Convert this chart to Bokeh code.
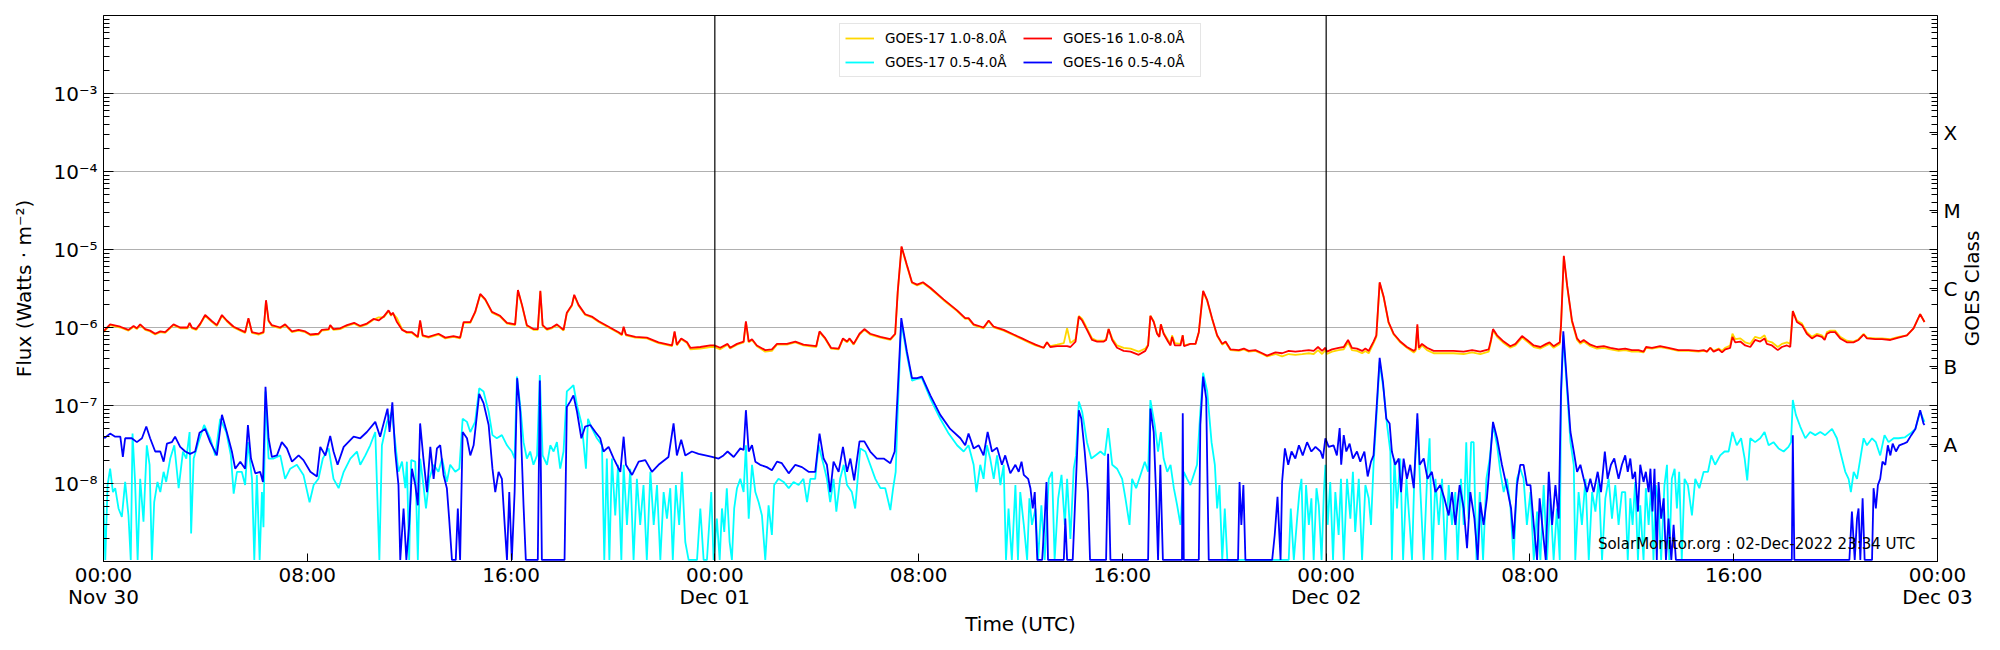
import math
import numpy as np
from bokeh.plotting import figure
from bokeh.models import (Range1d, LogAxis, FixedTicker, CustomJSTickFormatter,
                          Span, Legend, LegendItem, Label)
from bokeh.embed import file_html
from bokeh.resources import INLINE

FONT = "DejaVu Sans"

# ---------------- axis / label data ----------------
X_TICKS = [0, 8, 16, 24, 32, 40, 48, 56, 64, 72]          # hours since 30-Nov-2022 00:00 UTC
X_TICK_LABELS = ["00:00\nNov 30", "08:00", "16:00", "00:00\nDec 01", "08:00", "16:00",
                 "00:00\nDec 02", "08:00", "16:00", "00:00\nDec 03"]
DAY_LINES = [24, 48]
Y_DECADES = [1e-8, 1e-7, 1e-6, 1e-5, 1e-4, 1e-3]
CLASS_LETTERS = ["A", "B", "C", "M", "X"]
CLASS_EXPONENTS = [-7.5, -6.5, -5.5, -4.5, -3.5]
RIGHT_TITLE = "GOES Class"
RIGHT_TITLE_START_EXP = -6.24      # where the rotated title text starts (so it is centred on the frame)
WATERMARK = "SolarMonitor.org : 02-Dec-2022 23:34 UTC"

# ---------------- series: (hours, log10 flux W/m^2) ----------------
G16_LONG = [
 (0.0,-6.05),(0.26,-5.96),(0.66,-5.99),(0.98,-6.03),(1.18,-5.98),(1.31,-6.01),(1.44,-5.96),(1.64,-6.02),
 (1.83,-6.04),(2.03,-6.08),(2.23,-6.05),(2.42,-6.06),(2.75,-5.96),(3.01,-6.00),(3.3,-6.00),(3.38,-5.94),
 (3.47,-6.00),(3.64,-6.02),(3.8,-5.95),(3.99,-5.84),(4.26,-5.92),(4.45,-5.97),(4.65,-5.84),(4.84,-5.91),
 (5.11,-5.99),(5.37,-6.03),(5.56,-6.06),(5.69,-5.88),(5.83,-6.06),(6.09,-6.08),(6.28,-6.06),(6.38,-5.65),
 (6.48,-5.91),(6.61,-5.97),(6.94,-6.00),(7.13,-5.96),(7.4,-6.05),(7.66,-6.03),(7.92,-6.05),(8.12,-6.09),
 (8.44,-6.08),(8.57,-6.03),(8.84,-6.02),(8.9,-5.97),(9.03,-6.02),(9.29,-6.01),(9.56,-5.97),(9.84,-5.94),
 (10.08,-5.98),(10.34,-5.95),(10.6,-5.89),(10.8,-5.91),(11.0,-5.86),(11.19,-5.78),(11.29,-5.84),(11.36,-5.81),
 (11.52,-5.93),(11.72,-6.03),(11.91,-6.06),
 (12.11,-6.06),(12.34,-6.12),(12.43,-5.91),(12.53,-6.10),(12.76,-6.12),(13.15,-6.08),(13.42,-6.13),(13.74,-6.11),
 (14.0,-6.13),(14.14,-5.93),(14.4,-5.93),(14.59,-5.80),(14.79,-5.57),(14.99,-5.64),(15.25,-5.80),(15.57,-5.85),
 (15.84,-5.94),(16.16,-5.96),(16.27,-5.52),(16.43,-5.71),(16.62,-5.97),(16.88,-6.02),(17.05,-6.02),(17.15,-5.53),
 (17.24,-5.97),(17.41,-6.02),(17.6,-6.00),(17.8,-5.96),(18.06,-6.03),(18.19,-5.81),(18.39,-5.71),(18.48,-5.58),
 (18.65,-5.71),(18.91,-5.83),(19.17,-5.86),(19.44,-5.92),(19.83,-5.99),(20.22,-6.06),(20.35,-6.09),(20.42,-5.99),
 (20.51,-6.09),(20.88,-6.12),(21.33,-6.13),(21.79,-6.19),(22.32,-6.23),(22.42,-6.05),(22.51,-6.22),(22.68,-6.14),
 (22.91,-6.19),(23.04,-6.26),(23.43,-6.25),(23.82,-6.23),
 (23.98,-6.23),(24.21,-6.26),(24.5,-6.21),(24.6,-6.26),(24.87,-6.21),(25.13,-6.18),(25.22,-5.92),(25.33,-6.18),
 (25.46,-6.15),(25.65,-6.23),(25.98,-6.29),(26.24,-6.28),(26.44,-6.21),(26.83,-6.21),(27.16,-6.18),(27.48,-6.22),
 (27.98,-6.24),(28.11,-6.05),(28.34,-6.14),(28.56,-6.26),(28.86,-6.27),(29.03,-6.14),(29.19,-6.18),(29.29,-6.14),
 (29.45,-6.21),(29.68,-6.08),(29.87,-6.02),(30.1,-6.08),(30.5,-6.12),(30.89,-6.15),(31.08,-6.08),(31.18,-5.54),
 (31.33,-4.96),(31.54,-5.20),(31.74,-5.42),(31.94,-5.45),(32.17,-5.42),(32.46,-5.49),(32.98,-5.64),(33.51,-5.78),
 (33.83,-5.88),(33.96,-5.88),(34.16,-5.96),(34.55,-6.00),(34.75,-5.91),(34.95,-5.99),(35.34,-6.03),(35.73,-6.09),
 (36.06,-6.14),(36.32,-6.18),(36.59,-6.22),(36.91,-6.26),(37.04,-6.19),(37.17,-6.25),(37.44,-6.24),(37.7,-6.24),
 (37.83,-6.24),(37.96,-6.25),(38.16,-6.18),(38.29,-5.86),(38.42,-5.91),(38.61,-6.03),(38.81,-6.16),(39.01,-6.18),
 (39.27,-6.18),(39.36,-6.16),(39.46,-6.02),(39.6,-6.16),(39.79,-6.26),(40.05,-6.30),(40.32,-6.31),(40.64,-6.35),
 (40.9,-6.30),(41.01,-6.23),(41.1,-5.85),(41.23,-5.93),(41.36,-6.08),(41.45,-6.12),(41.51,-5.96),(41.62,-6.08),
 (41.79,-6.18),(41.89,-6.23),(41.95,-6.12),(42.06,-6.23),(42.28,-6.23),(42.37,-6.10),(42.42,-6.24),(42.67,-6.21),
 (42.87,-6.21),(43.0,-6.06),(43.17,-5.53),(43.33,-5.65),(43.52,-5.88),(43.72,-6.10),(43.92,-6.21),(44.05,-6.18),
 (44.24,-6.28),(44.57,-6.29),(44.77,-6.27),(44.96,-6.30),(45.22,-6.29),(45.49,-6.33),(45.68,-6.36),(46.01,-6.32),
 (46.27,-6.33),(46.53,-6.30),(46.79,-6.31),(47.06,-6.30),(47.32,-6.29),(47.51,-6.30),(47.68,-6.25),(47.84,-6.30),
 (47.97,-6.26),(48.03,-6.31),(48.23,-6.28),(48.49,-6.26),(48.69,-6.25),(48.86,-6.16),(49.01,-6.26),(49.21,-6.27),
 (49.41,-6.30),(49.54,-6.27),(49.67,-6.30),(49.86,-6.18),(49.97,-6.10),(50.1,-5.42),(50.26,-5.61),(50.45,-5.93),
 (50.65,-6.08),(50.91,-6.18),(51.17,-6.25),(51.44,-6.30),(51.51,-6.28),(51.58,-5.96),(51.64,-6.26),(51.76,-6.21),
 (51.96,-6.26),(52.22,-6.30),(52.61,-6.30),(53.0,-6.30),(53.4,-6.31),(53.73,-6.29),(54.05,-6.31),(54.38,-6.28),
 (54.47,-6.16),(54.55,-6.02),(54.71,-6.10),(54.97,-6.18),(55.23,-6.24),(55.43,-6.21),(55.69,-6.11),(55.89,-6.16),
 (56.15,-6.23),(56.41,-6.25),(56.64,-6.21),(56.77,-6.19),(56.93,-6.24),(57.17,-6.19),(57.22,-5.97),(57.33,-5.08),
 (57.46,-5.46),(57.65,-5.91),(57.85,-6.14),(57.98,-6.19),(58.11,-6.16),(58.37,-6.22),(58.63,-6.25),(58.9,-6.24),
 (59.16,-6.26),(59.48,-6.28),
 (59.74,-6.27),(60.0,-6.29),(60.26,-6.29),(60.46,-6.31),(60.56,-6.25),(60.79,-6.26),(61.11,-6.24),(61.44,-6.26),
 (61.83,-6.29),(62.23,-6.29),(62.62,-6.30),(62.82,-6.29),(62.95,-6.31),(63.08,-6.26),(63.21,-6.31),(63.41,-6.28),
 (63.54,-6.32),(63.67,-6.28),(63.86,-6.26),(63.95,-6.12),(64.06,-6.19),(64.26,-6.18),(64.45,-6.23),(64.65,-6.25),
 (64.84,-6.16),(65.04,-6.18),(65.21,-6.14),(65.3,-6.21),(65.5,-6.23),(65.73,-6.29),(65.89,-6.25),(66.09,-6.23),
 (66.22,-6.25),(66.32,-5.79),(66.48,-5.93),(66.68,-5.97),(66.87,-6.08),(67.07,-6.14),(67.27,-6.10),(67.46,-6.12),
 (67.57,-6.16),(67.66,-6.08),(67.79,-6.06),(67.98,-6.06),(68.18,-6.14),(68.44,-6.19),(68.7,-6.19),(68.9,-6.16),
 (69.1,-6.09),(69.23,-6.14),(69.56,-6.15),(69.82,-6.15),(70.15,-6.16),(70.47,-6.13),(70.8,-6.10),(71.06,-6.01),
 (71.32,-5.83),(71.49,-5.93),
]

G17_LONG = [
 (0.0,-6.06),(0.26,-5.97),(0.66,-6.00),(0.98,-6.04),(1.18,-5.99),(1.31,-6.02),(1.44,-5.97),(1.64,-6.03),
 (1.83,-6.05),(2.03,-6.09),(2.23,-6.06),(2.42,-6.07),(2.75,-5.97),(3.01,-6.01),(3.3,-6.01),(3.38,-5.95),
 (3.47,-6.01),(3.64,-6.03),(3.8,-5.96),(3.99,-5.85),(4.26,-5.93),(4.45,-5.98),(4.65,-5.85),(4.84,-5.92),
 (5.11,-6.00),(5.37,-6.04),(5.56,-6.07),(5.69,-5.89),(5.83,-6.07),(6.09,-6.09),(6.28,-6.07),(6.38,-5.66),
 (6.48,-5.92),(6.61,-5.98),(6.94,-6.01),(7.13,-5.97),(7.4,-6.06),(7.66,-6.04),(7.92,-6.06),(8.12,-6.10),
 (8.44,-6.09),(8.57,-6.04),(8.84,-6.03),(8.9,-5.98),(9.03,-6.03),(9.29,-6.02),(9.56,-5.98),(9.84,-5.95),
 (10.08,-5.99),(10.34,-5.96),(10.6,-5.90),(10.8,-5.87),(11.0,-5.87),(11.19,-5.79),(11.29,-5.85),(11.36,-5.82),
 (11.52,-5.88),(11.72,-6.02),(11.91,-6.07),
 (12.11,-6.07),(12.34,-6.13),(12.43,-5.92),(12.53,-6.11),(12.76,-6.13),(13.15,-6.09),(13.42,-6.14),(13.74,-6.12),
 (14.0,-6.14),(14.14,-5.94),(14.4,-5.94),(14.59,-5.81),(14.79,-5.58),(14.99,-5.65),(15.25,-5.81),(15.57,-5.86),
 (15.84,-5.95),(16.16,-5.97),(16.27,-5.53),(16.43,-5.72),(16.62,-5.98),(16.88,-6.03),(17.05,-6.03),(17.15,-5.54),
 (17.24,-5.98),(17.41,-6.03),(17.6,-6.01),(17.8,-5.97),(18.06,-6.04),(18.19,-5.82),(18.39,-5.72),(18.48,-5.59),
 (18.65,-5.72),(18.91,-5.84),(19.17,-5.87),(19.44,-5.93),(19.83,-6.00),(20.22,-6.07),(20.35,-6.10),(20.42,-6.00),
 (20.51,-6.10),(20.88,-6.13),(21.33,-6.14),(21.79,-6.20),(22.32,-6.24),(22.42,-6.06),(22.51,-6.23),(22.68,-6.15),
 (22.91,-6.20),(23.04,-6.28),(23.43,-6.27),(23.82,-6.25),
 (23.98,-6.25),(24.21,-6.28),(24.5,-6.22),(24.6,-6.27),(24.87,-6.22),(25.13,-6.19),(25.22,-5.93),(25.33,-6.19),
 (25.46,-6.16),(25.65,-6.24),(25.98,-6.31),(26.24,-6.30),(26.44,-6.22),(26.83,-6.22),(27.16,-6.19),(27.48,-6.23),
 (27.98,-6.25),(28.11,-6.06),(28.34,-6.15),(28.56,-6.27),(28.86,-6.28),(29.03,-6.15),(29.19,-6.19),(29.29,-6.15),
 (29.45,-6.22),(29.68,-6.09),(29.87,-6.03),(30.1,-6.09),(30.5,-6.13),(30.89,-6.16),(31.08,-6.09),(31.18,-5.55),
 (31.33,-4.97),(31.54,-5.21),(31.74,-5.43),(31.94,-5.46),(32.17,-5.43),(32.46,-5.50),(32.98,-5.65),(33.51,-5.79),
 (33.83,-5.89),(33.96,-5.89),(34.16,-5.97),(34.55,-6.01),(34.75,-5.92),(34.95,-6.00),(35.34,-6.04),(35.73,-6.10),
 (36.06,-6.15),(36.32,-6.19),(36.59,-6.23),(36.91,-6.26),(37.04,-6.19),(37.17,-6.24),(37.44,-6.22),(37.7,-6.20),
 (37.83,-6.01),(37.96,-6.20),(38.16,-6.15),(38.29,-5.85),(38.42,-5.89),(38.61,-6.01),(38.81,-6.14),(39.01,-6.17),
 (39.27,-6.17),(39.36,-6.15),(39.46,-6.02),(39.6,-6.14),(39.79,-6.23),(40.05,-6.26),(40.32,-6.27),(40.64,-6.31),
 (40.9,-6.27),(41.01,-6.22),(41.1,-5.85),(41.23,-5.92),(41.36,-6.07),(41.45,-6.11),(41.51,-5.96),(41.62,-6.07),
 (41.79,-6.16),(41.89,-6.20),(41.95,-6.10),(42.06,-6.20),(42.28,-6.21),(42.37,-6.10),(42.42,-6.23),(42.67,-6.21),
 (42.87,-6.21),(43.0,-6.06),(43.17,-5.54),(43.33,-5.66),(43.52,-5.89),(43.72,-6.11),(43.92,-6.22),(44.05,-6.19),
 (44.24,-6.29),(44.57,-6.30),(44.77,-6.28),(44.96,-6.31),(45.22,-6.30),(45.49,-6.34),(45.68,-6.37),(46.01,-6.34),
 (46.27,-6.37),(46.53,-6.34),(46.79,-6.35),(47.06,-6.34),(47.32,-6.33),(47.51,-6.34),(47.68,-6.29),(47.84,-6.34),
 (47.97,-6.29),(48.03,-6.34),(48.23,-6.31),(48.49,-6.29),(48.69,-6.28),(48.86,-6.19),(49.01,-6.29),(49.21,-6.30),
 (49.41,-6.33),(49.54,-6.30),(49.67,-6.33),(49.86,-6.20),(49.97,-6.12),(50.1,-5.43),(50.26,-5.62),(50.45,-5.94),
 (50.65,-6.09),(50.91,-6.19),(51.17,-6.26),(51.44,-6.32),(51.51,-6.30),(51.58,-5.98),(51.64,-6.28),(51.76,-6.23),
 (51.96,-6.29),(52.22,-6.33),(52.61,-6.33),(53.0,-6.33),(53.4,-6.34),(53.73,-6.32),(54.05,-6.34),(54.38,-6.31),
 (54.47,-6.18),(54.55,-6.04),(54.71,-6.12),(54.97,-6.20),(55.23,-6.26),(55.43,-6.23),(55.69,-6.13),(55.89,-6.18),
 (56.15,-6.25),(56.41,-6.27),(56.64,-6.23),(56.77,-6.21),(56.93,-6.26),(57.17,-6.21),(57.22,-5.99),(57.33,-5.09),
 (57.46,-5.47),(57.65,-5.93),(57.85,-6.16),(57.98,-6.21),(58.11,-6.18),(58.37,-6.24),(58.63,-6.27),(58.9,-6.26),
 (59.16,-6.28),(59.48,-6.30),
 (59.74,-6.29),(60.0,-6.31),(60.26,-6.31),(60.46,-6.32),(60.56,-6.26),(60.79,-6.27),(61.11,-6.25),(61.44,-6.27),
 (61.83,-6.30),(62.23,-6.30),(62.62,-6.31),(62.82,-6.30),(62.95,-6.31),(63.08,-6.26),(63.21,-6.30),(63.41,-6.27),
 (63.54,-6.30),(63.67,-6.26),(63.86,-6.23),(63.95,-6.08),(64.06,-6.15),(64.26,-6.14),(64.45,-6.19),(64.65,-6.21),
 (64.84,-6.12),(65.04,-6.14),(65.21,-6.10),(65.3,-6.17),(65.5,-6.19),(65.73,-6.25),(65.89,-6.21),(66.09,-6.19),
 (66.22,-6.21),(66.32,-5.79),(66.48,-5.91),(66.68,-5.95),(66.87,-6.06),(67.07,-6.12),(67.27,-6.08),(67.46,-6.10),
 (67.57,-6.14),(67.66,-6.06),(67.79,-6.04),(67.98,-6.04),(68.18,-6.12),(68.44,-6.17),(68.7,-6.18),(68.9,-6.15),
 (69.1,-6.08),(69.23,-6.13),(69.56,-6.14),(69.82,-6.14),(70.15,-6.15),(70.47,-6.12),(70.8,-6.10),(71.06,-6.01),
 (71.32,-5.83),(71.49,-5.93),
]

G16_SHORT = [
 (0.03,-7.42),(0.26,-7.36),(0.46,-7.40),(0.66,-7.40),(0.76,-7.66),(0.85,-7.42),(1.11,-7.42),(1.31,-7.47),
 (1.51,-7.42),(1.68,-7.27),(1.83,-7.42),(2.03,-7.59),(2.23,-7.59),(2.36,-7.72),(2.49,-7.49),(2.68,-7.47),
 (2.81,-7.40),(3.01,-7.53),(3.21,-7.59),(3.4,-7.62),(3.6,-7.59),(3.77,-7.35),(3.99,-7.30),(4.19,-7.47),
 (4.45,-7.64),(4.65,-7.12),(4.84,-7.34),(5.04,-7.59),(5.17,-7.81),(5.37,-7.72),(5.56,-7.81),(5.67,-7.25),
 (5.79,-7.68),(5.96,-7.87),(6.15,-7.85),(6.26,-7.98),(6.36,-6.76),(6.48,-7.42),(6.61,-7.66),(6.81,-7.64),
 (7.0,-7.47),(7.2,-7.55),(7.4,-7.72),(7.66,-7.64),(7.85,-7.70),(8.12,-7.85),(8.38,-7.91),(8.51,-7.53),
 (8.71,-7.64),(8.9,-7.39),(9.03,-7.59),(9.19,-7.76),(9.43,-7.53),(9.82,-7.40),(10.08,-7.42),(10.34,-7.34),
 (10.67,-7.21),(10.86,-7.40),(11.15,-7.04),(11.23,-7.34),(11.34,-6.96),(11.45,-7.59),(11.58,-8.02),(11.65,-8.98),
 (11.78,-8.32),(11.89,-8.98),
 (12.0,-8.53),(12.11,-7.81),(12.24,-8.02),(12.34,-8.28),(12.43,-7.23),(12.56,-7.68),(12.7,-8.11),(12.83,-7.53),
 (12.96,-7.94),(13.09,-7.55),(13.22,-7.51),(13.35,-7.89),(13.48,-8.06),(13.57,-8.45),(13.68,-8.98),(13.83,-8.98),
 (13.91,-8.32),(14.0,-8.98),(14.1,-7.34),(14.27,-7.42),(14.4,-7.64),(14.53,-7.51),(14.75,-6.85),(14.92,-6.97),
 (15.12,-7.25),(15.27,-7.81),(15.38,-8.11),(15.51,-7.85),(15.64,-7.94),(15.75,-8.53),(15.84,-8.98),(15.93,-8.11),
 (16.03,-8.98),(16.14,-8.11),(16.24,-6.65),(16.36,-7.08),(16.49,-8.28),(16.58,-8.98),(17.05,-8.98),(17.13,-6.68),
 (17.21,-8.98),(18.1,-8.98),(18.19,-7.02),(18.32,-6.95),(18.45,-6.87),(18.59,-7.08),(18.76,-7.42),(18.91,-7.27),
 (19.11,-7.25),(19.31,-7.34),(19.5,-7.42),(19.63,-7.59),(19.83,-7.53),(20.03,-7.68),(20.29,-7.85),(20.42,-7.40),
 (20.51,-7.76),(20.75,-7.89),(21.01,-7.72),(21.27,-7.70),(21.53,-7.85),(21.79,-7.76),(22.18,-7.66),(22.38,-7.23),
 (22.51,-7.64),(22.68,-7.44),(22.84,-7.64),(23.1,-7.59),(23.36,-7.62),(23.63,-7.64),
 (23.89,-7.66),(24.15,-7.68),(24.34,-7.64),(24.5,-7.59),(24.74,-7.66),(25.0,-7.55),(25.13,-7.57),(25.22,-7.06),
 (25.33,-7.59),(25.46,-7.51),(25.59,-7.72),(25.78,-7.76),(26.04,-7.79),(26.24,-7.83),(26.44,-7.72),(26.63,-7.74),
 (26.9,-7.87),(27.16,-7.76),(27.42,-7.79),(27.68,-7.85),(27.94,-7.85),(28.11,-7.36),(28.27,-7.68),(28.4,-7.76),
 (28.53,-8.11),(28.66,-7.72),(28.86,-7.85),(29.03,-7.53),(29.19,-7.85),(29.32,-7.68),(29.47,-7.96),(29.68,-7.46),
 (29.87,-7.46),(30.1,-7.59),(30.36,-7.68),(30.63,-7.68),(30.89,-7.74),(31.06,-7.59),(31.18,-6.82),(31.32,-5.88),
 (31.54,-6.31),(31.74,-6.65),(31.94,-6.65),(32.13,-6.63),(32.46,-6.87),(32.85,-7.12),(33.24,-7.30),(33.64,-7.42),
 (33.83,-7.51),(33.96,-7.36),(34.16,-7.55),(34.36,-7.51),(34.55,-7.64),(34.71,-7.34),(34.88,-7.59),(35.08,-7.54),
 (35.27,-7.76),(35.4,-7.64),(35.6,-7.87),
 (35.8,-7.76),(35.93,-7.85),(36.04,-7.72),(36.13,-7.89),(36.3,-7.94),(36.39,-8.06),(36.48,-8.32),(36.56,-8.11),
 (36.66,-8.98),(36.85,-8.98),(36.95,-8.45),(37.02,-7.98),(37.08,-8.98),(37.7,-8.98),(37.76,-8.45),(37.83,-8.98),
 (38.05,-8.98),(38.16,-8.11),(38.29,-7.06),(38.39,-7.17),(38.52,-7.59),(38.65,-8.11),(38.73,-8.98),(39.36,-8.98),
 (39.44,-7.62),(39.53,-8.98),(41.01,-8.98),(41.1,-7.04),(41.23,-7.34),(41.32,-8.11),(41.4,-8.98),(41.49,-7.76),
 (41.59,-8.98),(42.34,-8.98),(42.37,-7.10),(42.41,-8.98),(43.0,-8.98),(43.06,-7.25),(43.17,-6.63),(43.29,-6.91),
 (43.39,-8.98),(44.54,-8.98),(44.6,-7.98),(44.67,-8.53),(44.75,-8.02),(44.83,-8.98),(45.88,-8.98),(45.98,-8.66),
 (46.09,-8.17),(46.21,-8.98),(46.27,-7.98),(46.38,-7.55),(46.51,-7.76),(46.64,-7.59),(46.79,-7.68),(46.93,-7.51),
 (47.08,-7.64),(47.25,-7.47),(47.42,-7.59),(47.58,-7.53),(47.78,-7.59),
 (47.87,-7.68),(47.97,-7.42),(48.1,-7.53),(48.29,-7.51),(48.42,-7.64),(48.53,-7.29),(48.59,-7.76),(48.69,-7.38),
 (48.79,-7.59),(48.92,-7.49),(49.05,-7.68),(49.21,-7.59),(49.34,-7.72),(49.5,-7.59),(49.63,-7.91),(49.76,-7.72),
 (49.86,-7.64),(49.97,-7.08),(50.1,-6.39),(50.23,-6.70),(50.36,-7.17),(50.49,-7.23),(50.58,-7.59),(50.71,-7.76),
 (50.85,-7.68),(50.94,-8.11),(51.04,-7.68),(51.17,-7.94),(51.3,-7.76),(51.44,-8.06),(51.58,-7.10),(51.67,-7.76),
 (51.83,-7.68),(51.98,-7.94),(52.15,-7.85),(52.29,-8.11),(52.48,-8.02),(52.64,-8.19),(52.81,-8.41),(52.94,-8.11),
 (53.07,-8.53),(53.24,-8.02),(53.4,-8.32),(53.53,-8.83),(53.66,-8.11),(53.82,-8.45),(53.95,-8.98),(54.05,-8.24),
 (54.18,-8.53),(54.31,-8.19),(54.44,-7.68),(54.55,-7.21),(54.71,-7.42),(54.9,-7.76),(55.1,-8.06),(55.26,-8.32),
 (55.36,-8.71),(55.49,-8.02),(55.62,-7.76),(55.75,-7.76),(55.88,-8.02),(56.02,-8.02),(56.15,-8.53),(56.28,-8.98),
 (56.38,-8.19),(56.51,-8.62),(56.62,-8.98),(56.74,-7.85),(56.87,-8.53),(57.0,-8.02),(57.13,-8.45),(57.22,-6.82),
 (57.31,-6.05),(57.46,-6.74),(57.59,-7.34),(57.72,-7.59),(57.85,-7.85),(57.98,-7.76),(58.11,-7.94),(58.24,-8.11),
 (58.37,-7.94),(58.5,-8.11),(58.66,-7.85),(58.79,-8.11),(58.94,-7.59),(59.05,-7.94),(59.18,-7.76),(59.31,-7.68),
 (59.48,-7.94),(59.61,-7.76),
 (59.74,-7.64),(59.84,-7.85),(59.94,-7.68),(60.03,-7.94),(60.13,-7.85),(60.24,-8.36),(60.33,-7.76),(60.46,-7.98),
 (60.55,-7.85),(60.66,-8.11),(60.73,-7.81),(60.81,-8.36),(60.89,-7.81),(60.98,-8.98),(61.05,-7.98),(61.15,-8.45),
 (61.25,-8.19),(61.34,-8.98),(61.44,-8.45),(61.55,-8.98),(61.64,-8.53),(61.73,-8.98),(66.28,-8.98),(66.32,-7.38),
 (66.38,-8.98),(68.54,-8.98),(68.64,-8.36),(68.75,-8.98),(68.84,-8.45),(68.9,-8.32),(68.97,-8.98),(69.06,-8.19),
 (69.14,-8.98),(69.43,-8.98),(69.49,-8.06),(69.58,-8.32),(69.66,-8.02),(69.75,-7.94),(69.84,-7.72),(69.95,-7.76),
 (70.05,-7.51),(70.15,-7.64),(70.24,-7.49),(70.37,-7.59),(70.5,-7.51),(70.67,-7.49),(70.8,-7.47),(70.97,-7.38),
 (71.13,-7.30),(71.32,-7.06),(71.45,-7.23),(71.49,-7.25),
]

G17_SHORT = [
 (0.0,-8.24),(0.07,-8.98),(0.16,-8.02),(0.26,-7.81),(0.37,-8.11),(0.46,-8.06),(0.59,-8.32),(0.72,-8.43),
 (0.85,-7.98),(0.98,-8.41),(1.07,-8.98),(1.14,-7.36),(1.24,-7.98),(1.34,-8.98),(1.44,-7.94),(1.57,-8.49),
 (1.7,-7.51),(1.81,-7.76),(1.9,-8.98),(1.99,-8.24),(2.12,-7.98),(2.23,-8.11),(2.36,-7.85),(2.46,-7.98),
 (2.62,-7.68),(2.78,-7.51),(2.95,-8.06),(3.12,-7.59),(3.25,-7.68),(3.38,-7.34),(3.44,-8.64),(3.54,-7.68),
 (3.73,-7.47),(3.95,-7.25),(4.19,-7.42),(4.39,-7.64),(4.58,-7.17),(4.82,-7.34),(5.0,-7.64),(5.11,-8.13),
 (5.24,-7.85),(5.43,-7.85),(5.56,-8.02),(5.67,-7.47),(5.83,-7.94),(5.92,-8.98),(6.02,-7.89),(6.13,-8.98),
 (6.22,-8.11),(6.28,-8.56),(6.36,-6.82),(6.48,-7.68),(6.68,-7.68),(6.94,-7.64),(7.13,-7.94),(7.33,-7.81),
 (7.59,-7.76),(7.85,-7.89),(8.09,-8.24),(8.25,-8.02),(8.44,-7.94),(8.61,-7.68),(8.84,-7.55),(9.03,-7.94),
 (9.23,-8.06),(9.43,-7.85),(9.69,-7.68),(9.95,-7.59),(10.08,-7.76),(10.28,-7.64),(10.47,-7.51),(10.67,-7.34),
 (10.83,-8.98),(10.93,-7.51),(11.13,-7.21),(11.32,-7.08),(11.45,-7.47),(11.58,-7.85),(11.72,-7.72),(11.85,-8.06),
 (11.91,-7.72),(12.0,-8.98),(12.08,-7.70),(12.24,-7.72),(12.34,-8.98),(12.43,-7.68),(12.56,-8.02),(12.66,-8.32),
 (12.79,-7.94),(12.96,-7.76),(13.15,-7.85),(13.29,-7.68),(13.48,-7.98),(13.61,-7.76),(13.81,-7.85),(13.97,-7.81),
 (14.1,-7.17),(14.27,-7.21),(14.4,-7.34),(14.59,-7.21),(14.75,-6.78),(14.92,-6.82),(15.12,-7.08),(15.27,-7.38),
 (15.44,-7.42),(15.64,-7.38),(15.84,-7.51),(16.03,-7.59),(16.14,-7.68),(16.23,-6.63),(16.36,-7.00),(16.49,-7.47),
 (16.62,-7.68),(16.75,-7.59),(16.88,-7.76),(17.02,-7.64),(17.13,-6.61),(17.24,-7.64),(17.41,-7.76),(17.54,-7.51),
 (17.67,-7.59),(17.8,-7.47),(17.93,-7.81),(18.06,-7.59),(18.19,-6.82),(18.32,-6.78),(18.45,-6.74),(18.59,-7.00),
 (18.78,-7.25),(18.94,-7.81),(19.02,-7.17),(19.17,-7.29),(19.37,-7.42),(19.57,-7.51),(19.66,-8.98),(19.76,-7.68),
 (19.86,-8.98),(19.96,-7.68),(20.09,-8.41),(20.2,-7.76),(20.33,-8.98),(20.42,-7.76),(20.55,-8.53),(20.68,-7.81),
 (20.81,-8.98),(20.94,-7.94),(21.07,-8.53),(21.2,-8.02),(21.33,-8.98),(21.47,-7.85),(21.6,-8.53),(21.73,-8.02),
 (21.86,-8.98),(21.99,-8.11),(22.12,-8.45),(22.25,-8.06),(22.35,-8.98),(22.47,-8.02),(22.6,-8.53),(22.71,-7.85),
 (22.84,-8.75),(22.97,-8.98),(23.3,-8.98),(23.43,-8.32),(23.56,-8.98),(23.69,-8.98),(23.86,-8.11),(23.95,-8.98),
 (24.08,-8.45),(24.19,-8.98),(24.28,-8.32),(24.37,-8.62),(24.47,-8.06),(24.58,-8.75),(24.67,-8.98),(24.76,-8.32),
 (24.87,-8.06),(25.0,-7.94),(25.13,-8.11),(25.22,-7.51),(25.33,-8.45),(25.46,-7.76),(25.59,-8.11),(25.72,-8.24),
 (25.85,-8.41),(25.98,-8.98),(26.11,-8.28),(26.24,-8.66),(26.33,-8.02),(26.5,-7.94),(26.7,-7.98),(26.9,-8.06),
 (27.09,-7.98),(27.29,-8.02),(27.48,-7.94),(27.62,-8.24),(27.75,-7.94),(27.94,-7.94),(28.07,-7.51),(28.27,-7.76),
 (28.4,-7.94),(28.53,-8.24),(28.66,-7.94),(28.77,-8.36),(28.92,-7.94),(29.06,-7.76),(29.19,-8.02),(29.38,-8.11),
 (29.51,-8.32),(29.71,-7.55),(29.91,-7.59),(30.1,-7.76),(30.3,-7.94),(30.5,-8.06),(30.69,-8.06),(30.89,-8.34),
 (31.0,-8.06),(31.1,-7.85),(31.18,-7.08),(31.32,-5.93),(31.54,-6.35),(31.74,-6.68),(31.94,-6.66),(32.13,-6.65),
 (32.46,-6.91),(32.85,-7.17),(33.18,-7.36),(33.51,-7.51),(33.77,-7.59),(33.96,-7.51),(34.16,-7.76),(34.27,-8.11),
 (34.42,-7.76),(34.55,-7.94),(34.68,-7.51),(34.81,-7.68),(34.95,-7.94),(35.08,-7.64),(35.21,-8.02),(35.34,-7.76),
 (35.43,-8.98),(35.53,-8.32),(35.66,-8.98),
 (35.8,-8.02),(35.9,-8.98),(35.99,-8.11),(36.13,-8.53),(36.26,-8.98),(36.35,-8.19),(36.45,-8.53),(36.59,-8.32),
 (36.69,-8.98),(36.82,-8.28),(36.95,-8.98),(37.11,-7.94),(37.24,-7.85),(37.34,-8.98),(37.48,-8.19),(37.61,-7.89),
 (37.74,-8.53),(37.83,-7.94),(37.96,-8.71),(38.09,-7.81),(38.18,-7.64),(38.29,-6.95),(38.42,-7.08),(38.61,-7.47),
 (38.78,-7.68),(38.94,-7.64),(39.14,-7.59),(39.31,-7.64),(39.44,-7.29),(39.6,-7.76),(39.79,-7.81),(39.99,-7.94),
 (40.12,-8.19),(40.28,-8.53),(40.38,-7.94),(40.54,-8.06),(40.71,-7.89),(40.88,-7.72),(41.01,-7.85),(41.1,-6.93),
 (41.27,-7.25),(41.4,-7.59),(41.51,-7.34),(41.62,-7.68),(41.76,-7.85),(41.89,-7.76),(42.02,-8.06),(42.15,-8.28),
 (42.28,-8.53),(42.41,-7.85),(42.54,-7.94),(42.67,-8.02),(42.8,-7.89),(42.93,-7.76),(43.06,-7.08),(43.17,-6.58),
 (43.33,-6.82),(43.5,-7.47),(43.63,-7.76),(43.72,-8.32),(43.81,-8.02),(43.92,-8.98),(44.02,-8.32),(44.12,-8.98),
 (46.53,-8.98),(46.61,-8.32),(46.73,-8.98),(46.86,-8.45),(46.95,-8.11),(47.03,-7.94),(47.12,-8.98),(47.21,-8.02),
 (47.32,-8.53),(47.42,-8.19),(47.51,-8.98),(47.62,-8.06),(47.71,-8.28),(47.82,-8.98),(47.91,-8.11),
 (47.97,-7.76),(48.06,-8.53),(48.16,-7.98),(48.27,-8.98),(48.36,-8.11),(48.49,-8.66),(48.58,-7.94),(48.69,-8.98),
 (48.82,-7.94),(48.95,-8.45),(49.05,-7.85),(49.14,-8.62),(49.28,-7.94),(49.41,-8.98),(49.54,-8.02),(49.67,-8.19),
 (49.76,-8.53),(49.86,-7.76),(49.97,-7.17),(50.1,-6.44),(50.26,-6.82),(50.39,-7.25),(50.52,-7.59),(50.58,-8.98),
 (50.68,-7.68),(50.78,-8.32),(50.91,-7.68),(51.02,-8.98),(51.15,-7.94),(51.28,-8.53),(51.37,-8.98),(51.46,-7.94),
 (51.58,-7.17),(51.7,-8.11),(51.83,-8.98),(51.96,-7.94),(52.06,-7.42),(52.17,-8.98),(52.29,-7.94),(52.42,-8.53),
 (52.55,-7.94),(52.68,-8.98),(52.81,-8.02),(52.94,-8.53),(53.07,-8.11),(53.16,-8.98),(53.29,-7.94),(53.4,-8.53),
 (53.5,-7.47),(53.59,-8.45),(53.69,-7.47),(53.79,-7.47),(53.9,-8.98),(54.03,-8.11),(54.16,-8.98),(54.29,-7.94),
 (54.42,-7.68),(54.55,-7.25),(54.71,-7.51),(54.84,-7.85),(54.97,-8.11),(55.1,-7.94),(55.23,-8.28),(55.36,-8.98),
 (55.49,-7.94),(55.62,-7.81),(55.75,-7.94),(55.88,-8.53),(56.02,-8.11),(56.15,-8.98),(56.28,-8.36),(56.41,-8.98),
 (56.54,-8.02),(56.67,-8.98),(56.8,-8.19),(56.93,-8.98),(57.06,-8.32),(57.17,-8.98),(57.22,-6.91),(57.31,-6.10),
 (57.46,-6.82),(57.59,-7.47),(57.72,-7.76),(57.78,-8.98),(57.91,-8.11),(58.04,-8.53),(58.18,-7.94),(58.31,-8.98),
 (58.44,-8.11),(58.57,-8.36),(58.7,-7.94),(58.83,-8.98),(58.96,-8.19),(59.09,-7.94),(59.22,-8.45),(59.35,-8.02),
 (59.48,-8.53),(59.61,-8.11),
 (59.74,-8.11),(59.84,-8.98),(59.94,-8.19),(60.03,-8.53),(60.13,-7.98),(60.24,-8.98),(60.33,-8.28),(60.46,-8.98),
 (60.55,-8.06),(60.66,-8.53),(60.76,-8.02),(60.85,-8.98),(60.94,-8.02),(61.05,-8.28),(61.15,-8.98),(61.28,-8.02),
 (61.38,-7.76),(61.47,-8.98),(61.57,-7.94),(61.68,-7.81),(61.77,-8.32),(61.86,-7.85),(61.96,-8.98),(62.07,-7.94),
 (62.2,-8.02),(62.36,-8.41),(62.49,-7.94),(62.65,-8.06),(62.82,-7.85),(62.99,-7.85),(63.12,-7.64),(63.27,-7.76),
 (63.47,-7.64),(63.64,-7.59),(63.8,-7.59),(63.95,-7.34),(64.12,-7.51),(64.29,-7.42),(64.43,-7.68),(64.53,-7.96),
 (64.65,-7.42),(64.84,-7.47),(65.04,-7.42),(65.21,-7.34),(65.37,-7.51),(65.56,-7.47),(65.76,-7.55),(65.96,-7.59),
 (66.15,-7.53),(66.25,-7.47),(66.32,-6.93),(66.44,-7.12),(66.61,-7.27),(66.81,-7.42),(67.0,-7.34),(67.2,-7.38),
 (67.4,-7.34),(67.59,-7.38),(67.86,-7.30),(68.05,-7.42),(68.22,-7.64),(68.38,-7.85),(68.51,-7.94),(68.6,-8.11),
 (68.71,-7.85),(68.84,-7.94),(68.97,-7.68),(69.1,-7.42),(69.23,-7.51),(69.43,-7.42),(69.58,-7.47),(69.75,-7.64),
 (69.92,-7.38),(70.08,-7.47),(70.28,-7.42),(70.47,-7.42),(70.71,-7.41),(70.93,-7.36),(71.13,-7.30),(71.32,-7.08),
 (71.49,-7.21),
]


def to_xy(pairs):
    t = np.array([a for a, _ in pairs], dtype=float)
    f = 10.0 ** np.array([b for _, b in pairs], dtype=float)
    return t, f


p = figure(width=2000, height=650, x_range=Range1d(0, 72), y_range=Range1d(1e-9, 1e-2),
           y_axis_type="log", output_backend="svg", toolbar_location=None,
           min_border_left=103, min_border_right=63, min_border_top=15, min_border_bottom=89)
p.outline_line_color = "black"
p.outline_line_width = 1
p.background_fill_color = "white"
p.border_fill_color = "white"

LW = 1.8
t, f = to_xy(G17_LONG)
r17l = p.line(t, f, line_color="#FFD700", line_width=LW)
t, f = to_xy(G16_LONG)
r16l = p.line(t, f, line_color="#FF0000", line_width=LW)
t, f = to_xy(G17_SHORT)
r17s = p.line(t, f, line_color="#00FFFF", line_width=LW)
t, f = to_xy(G16_SHORT)
r16s = p.line(t, f, line_color="#0000FF", line_width=LW)

for d in DAY_LINES:
    p.add_layout(Span(location=d, dimension="height", line_color="black", line_width=1.2))

# grid
p.xgrid.visible = False
p.ygrid.ticker = FixedTicker(ticks=Y_DECADES)
p.ygrid.grid_line_color = "#b0b0b0"
p.ygrid.grid_line_width = 1

minors = [k * 10.0 ** n for n in range(-9, -2) for k in range(2, 10)]


def style_axis(ax):
    ax.major_label_text_font = FONT
    ax.major_label_text_font_size = "20px"
    ax.major_label_text_color = "black"
    ax.axis_label_text_font = FONT
    ax.axis_label_text_font_size = "20px"
    ax.axis_label_text_font_style = "normal"
    ax.axis_label_text_color = "black"
    ax.axis_line_color = "black"
    ax.major_tick_line_color = "black"
    ax.minor_tick_line_color = "black"
    ax.major_tick_out = 0
    ax.minor_tick_out = 0


# left axis
yl = p.yaxis[0]
style_axis(yl)
yl.ticker = FixedTicker(ticks=Y_DECADES, minor_ticks=minors)
yl.formatter = CustomJSTickFormatter(code="""
const e = Math.round(Math.log10(tick));
const sup = {"-": "⁻", "0": "⁰", "1": "¹", "2": "²", "3": "³", "4": "⁴",
             "5": "⁵", "6": "⁶", "7": "⁷", "8": "⁸", "9": "⁹"};
return "10" + String(e).split("").map((c) => sup[c]).join("");
""")
yl.axis_label = "Flux (Watts · m⁻²)"
yl.major_tick_in = 10
yl.minor_tick_in = 6
yl.major_label_standoff = 6
yl.axis_label_standoff = 14

# right axis (GOES class letters)
class_ticks = [10.0 ** e for e in CLASS_EXPONENTS]
yr = LogAxis(ticker=FixedTicker(ticks=Y_DECADES + class_ticks, minor_ticks=minors),
             formatter=CustomJSTickFormatter(args=dict(letters=CLASS_LETTERS, exps=CLASS_EXPONENTS), code="""
const l = Math.log10(tick);
for (let i = 0; i < exps.length; i++) {
  if (Math.abs(l - exps[i]) < 0.01) { return letters[i]; }
}
return "";
"""))
style_axis(yr)
yr.major_tick_in = 8
yr.minor_tick_in = 6
yr.major_label_standoff = 6
p.add_layout(yr, "right")

# outer right axis carrying only the rotated "GOES Class" title (reads bottom-to-top)
yr2 = LogAxis(ticker=FixedTicker(ticks=[10.0 ** RIGHT_TITLE_START_EXP], minor_ticks=[]),
              formatter=CustomJSTickFormatter(args=dict(title=RIGHT_TITLE), code="return title;"))
style_axis(yr2)
yr2.axis_line_color = None
yr2.major_tick_line_color = None
yr2.minor_tick_line_color = None
yr2.major_tick_in = 0
yr2.minor_tick_in = 0
yr2.major_label_orientation = math.pi / 2
yr2.major_label_standoff = 9
p.add_layout(yr2, "right")

# bottom axis
xb = p.xaxis[0]
style_axis(xb)
xb.ticker = FixedTicker(ticks=X_TICKS, minor_ticks=[])
xb.major_label_overrides = {k: v for k, v in zip(X_TICKS, X_TICK_LABELS)}
xb.major_label_text_line_height = 0.95
xb.axis_label = "Time (UTC)"
xb.major_tick_in = 8
xb.major_label_standoff = 1
xb.axis_label_standoff = 0

# watermark text
p.add_layout(Label(x=71.13, y=10 ** -8.77, text=WATERMARK, text_align="right",
                   text_baseline="middle", text_font=FONT, text_font_size="15px",
                   text_color="black"))

legend = Legend(items=[
    LegendItem(label="GOES-17 1.0-8.0Å", renderers=[r17l]),
    LegendItem(label="GOES-17 0.5-4.0Å", renderers=[r17s]),
    LegendItem(label="GOES-16 1.0-8.0Å", renderers=[r16l]),
    LegendItem(label="GOES-16 0.5-4.0Å", renderers=[r16s]),
], location="top_center", orientation="vertical", ncols=2)
legend.label_text_font = FONT
legend.label_text_font_size = "13.5px"
legend.label_text_color = "black"
legend.glyph_width = 29
legend.glyph_height = 18
legend.label_height = 18
legend.label_width = 132
legend.label_standoff = 11
legend.padding = 5
legend.spacing = 6
legend.margin = 8
legend.border_line_color = "#cccccc"
legend.border_line_width = 1
legend.background_fill_alpha = 0.85
p.add_layout(legend)

open("out.html", "w").write(file_html(p, INLINE))
